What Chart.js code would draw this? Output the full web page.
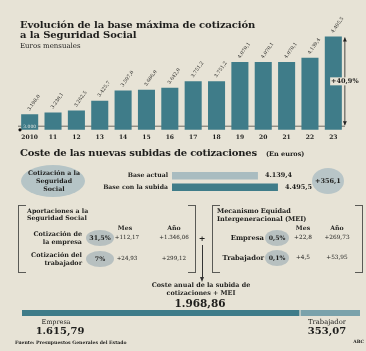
<!DOCTYPE html>
<html>
<head>
<meta charset="utf-8">
<script src="https://cdn.jsdelivr.net/npm/chart.js@4"></script>
<style>
  html, body { margin: 0; padding: 0; }
  body { width: 366px; height: 351px; background: #e7e3d6; position: relative; overflow: hidden; }
  canvas { position: absolute; left: 0; }
  .t { position: absolute; white-space: nowrap; line-height: 1; font-family: 'DejaVu Serif', serif; color: #1e1e1c; z-index: 2; }
  .ell { position: absolute; border-radius: 50%; z-index: 1; }
  .br { position: absolute; border: 1px solid #5a5a56; box-sizing: border-box; }
</style>
</head>
<body>
<canvas id="bars" width="366" height="140" style="top:5px"></canvas>
<canvas id="bases" width="366" height="23" style="top:170px"></canvas>
<canvas id="split" width="366" height="8" style="top:309px"></canvas>
<script>
// evolución base máxima (euros mensuales)
const years = ["2010", "11", "12", "13", "14", "15", "16", "17", "18", "19", "20", "21", "22", "23"];
const baseMax = [3198.0, 3230.1, 3262.5, 3425.7, 3597.0, 3606.0, 3642.0, 3751.2, 3751.2, 4070.1, 4070.1, 4070.1, 4139.4, 4495.5];
const refValue = 3000;
const riseLabel = "+40,9%";

// base actual vs base con la subida
const baseLabels = ["Base actual", "Base con la subida"];
const baseValues = [4139.4, 4495.5];
const baseDiff = "+356,1";

// coste anual empresa / trabajador
const splitLabels = ["Empresa", "Trabajador"];
const splitValues = [1615.79, 353.07];

// tablas
const aportRows = [
  { label: ["Cotización de", "la empresa"], rate: "31,5%", mes: "+112,17", ano: "+1.346,06" },
  { label: ["Cotización del", "trabajador"], rate: "7%", mes: "+24,93", ano: "+299,12" }
];
const meiRows = [
  { label: "Empresa", rate: "0,5%", mes: "+22,8", ano: "+269,73" },
  { label: "Trabajador", rate: "0,1%", mes: "+4,5", ano: "+53,95" }
];

const SERIF = "'DejaVu Serif', serif";
const INK = "#1e1e1c";
const TEAL = "#3f7c89";
const TEAL_LIGHT = "#a9bcc0";
const TEAL_MID = "#7aa2ab";
const BG = "#e7e3d6";

function fmtEs(v, d) {
  const [i, f] = v.toFixed(d).split(".");
  return i.replace(/\B(?=(\d{3})+(?!\d))/g, ".") + (f ? "," + f : "");
}

function put(text, x, y, o = {}) {
  const d = document.createElement("div");
  d.className = "t";
  d.textContent = text;
  d.style.left = x + "px";
  d.style.top = y + "px";
  d.style.fontSize = (o.size || 6) + "px";
  d.style.fontWeight = o.bold === false ? "normal" : "bold";
  if (o.ls) d.style.letterSpacing = o.ls + "px";
  const tx = o.align === "center" ? "-50%" : o.align === "right" ? "-100%" : "0";
  d.style.transform = "translate(" + tx + ", -50%)";
  document.body.appendChild(d);
}

function ell(cx, cy, rx, ry, color) {
  const d = document.createElement("div");
  d.className = "ell";
  d.style.left = (cx - rx) + "px";
  d.style.top = (cy - ry) + "px";
  d.style.width = 2 * rx + "px";
  d.style.height = 2 * ry + "px";
  d.style.background = color;
  document.body.appendChild(d);
}

function bracketBox(x1, y1, x2, y2) {
  const l = document.createElement("div");
  l.className = "br";
  l.style.cssText += `left:${x1}px;top:${y1}px;width:8px;height:${y2 - y1}px;border-right:none`;
  const r = document.createElement("div");
  r.className = "br";
  r.style.cssText += `left:${x2 - 8}px;top:${y1}px;width:8px;height:${y2 - y1}px;border-left:none`;
  document.body.appendChild(l);
  document.body.appendChild(r);
}

// --- chart 1: vertical bars
const barDecor = {
  id: "barDecor",
  beforeDatasetsDraw(chart) {
    const { ctx, chartArea: a, scales: { y } } = chart;
    const py = y.getPixelForValue(refValue);
    ctx.save();
    ctx.strokeStyle = "#4a4a46";
    ctx.lineWidth = 0.8;
    ctx.beginPath();
    ctx.moveTo(a.left, py);
    ctx.lineTo(a.right, py);
    ctx.stroke();
    ctx.restore();
  },
  afterDatasetsDraw(chart) {
    const { ctx, chartArea: a, scales: { y } } = chart;
    const bars = chart.getDatasetMeta(0).data;
    ctx.save();
    ctx.fillStyle = INK;
    ctx.font = "4.8px " + SERIF;
    ctx.textBaseline = "middle";
    bars.forEach((b, i) => {
      ctx.save();
      ctx.translate(b.x - 1, b.y - 4);
      ctx.rotate(-55 * Math.PI / 180);
      ctx.fillText(fmtEs(baseMax[i], 1), 0, 0);
      ctx.restore();
    });
    // 3.000 label + dot
    const py = y.getPixelForValue(refValue);
    ctx.fillStyle = "#dfe4df";
    ctx.font = "4.5px " + SERIF;
    ctx.textAlign = "center";
    ctx.fillText(fmtEs(refValue, 0), bars[0].x, py + 0.5);
    ctx.fillStyle = "#111";
    ctx.beginPath();
    ctx.arc(a.left + 2, a.bottom, 1.6, 0, Math.PI * 2);
    ctx.fill();
    // arrow +40,9%
    const last = bars[bars.length - 1];
    const ax = last.x + last.width / 2 + 3;
    const top = y.getPixelForValue(baseMax[baseMax.length - 1]);
    ctx.strokeStyle = "#222";
    ctx.lineWidth = 0.8;
    ctx.beginPath();
    ctx.moveTo(ax, top + 1);
    ctx.lineTo(ax, py - 1);
    ctx.stroke();
    ctx.fillStyle = "#222";
    [[top + 1, 1], [py - 1, -1]].forEach(([yy, s]) => {
      ctx.beginPath();
      ctx.moveTo(ax, yy);
      ctx.lineTo(ax - 2, yy + 4 * s);
      ctx.lineTo(ax + 2, yy + 4 * s);
      ctx.closePath();
      ctx.fill();
    });
    const my = (top + py) / 2;
    ctx.font = "bold 6.5px " + SERIF;
    const w = ctx.measureText(riseLabel).width;
    ctx.fillStyle = BG;
    ctx.fillRect(ax - w / 2 - 1, my - 4, w + 2, 8);
    ctx.fillStyle = INK;
    ctx.textAlign = "center";
    ctx.fillText(riseLabel, ax, my);
    ctx.restore();
  }
};

new Chart(document.getElementById("bars"), {
  type: "bar",
  data: {
    labels: years,
    datasets: [{
      data: baseMax,
      backgroundColor: TEAL,
      barPercentage: 0.73,
      categoryPercentage: 1
    }]
  },
  options: {
    responsive: false,
    animation: false,
    layout: { padding: { left: 18, right: 21, top: 0, bottom: 0 } },
    plugins: { legend: { display: false }, tooltip: { enabled: false } },
    scales: {
      x: {
        grid: { display: false, drawTicks: false },
        border: { display: false },
        ticks: { color: INK, padding: 4, font: { family: SERIF, size: 6, weight: "bold" } }
      },
      y: { display: false, min: 2940, max: 5020 }
    }
  },
  plugins: [barDecor]
});

// --- chart 2: base actual / con la subida
const baseDecor = {
  id: "baseDecor",
  afterDatasetsDraw(chart) {
    const { ctx, chartArea: a } = chart;
    ctx.save();
    ctx.fillStyle = INK;
    ctx.textBaseline = "middle";
    chart.getDatasetMeta(0).data.forEach((b, i) => {
      ctx.font = "bold 6.2px " + SERIF;
      ctx.textAlign = "right";
      ctx.fillText(chart.data.labels[i], a.left - 4, b.y);
      ctx.font = "bold 6.5px " + SERIF;
      ctx.textAlign = "left";
      ctx.fillText(fmtEs(baseValues[i], 1), b.x + 7, b.y);
    });
    ctx.restore();
  }
};

new Chart(document.getElementById("bases"), {
  type: "bar",
  data: {
    labels: baseLabels,
    datasets: [{
      data: baseValues,
      backgroundColor: [TEAL_LIGHT, TEAL],
      barPercentage: 0.64,
      categoryPercentage: 1
    }]
  },
  options: {
    indexAxis: "y",
    responsive: false,
    animation: false,
    layout: { padding: { left: 172, right: 86, top: 0, bottom: 0 } },
    plugins: { legend: { display: false }, tooltip: { enabled: false } },
    scales: {
      x: { display: false, min: 2610, max: 4532 },
      y: { display: false }
    }
  },
  plugins: [baseDecor]
});

// --- chart 3: empresa / trabajador
new Chart(document.getElementById("split"), {
  type: "bar",
  data: {
    labels: [""],
    datasets: [
      { label: splitLabels[0], data: [splitValues[0]], backgroundColor: TEAL, barPercentage: 0.75, categoryPercentage: 1 },
      {
        label: splitLabels[1], data: [splitValues[1]], backgroundColor: TEAL_MID,
        borderColor: BG, borderWidth: { left: 1.2, right: 0, top: 0, bottom: 0 }, borderSkipped: false,
        barPercentage: 0.75, categoryPercentage: 1
      }
    ]
  },
  options: {
    indexAxis: "y",
    responsive: false,
    animation: false,
    layout: { padding: { left: 22, right: 6, top: 0, bottom: 0 } },
    plugins: { legend: { display: false }, tooltip: { enabled: false } },
    scales: {
      x: { display: false, stacked: true, min: 0, max: splitValues[0] + splitValues[1] },
      y: { display: false, stacked: true }
    }
  }
});

// --- texts
put("Evolución de la base máxima de cotización", 20, 25, { size: 10, ls: -0.1 });
put("a la Seguridad Social", 20, 35, { size: 10, ls: -0.1 });
put("Euros mensuales", 20, 46, { size: 7, bold: false });

put("Coste de las nuevas subidas de cotizaciones", 20, 153, { size: 10, ls: -0.2 });
put("(En euros)", 266, 154, { size: 6.5 });

ell(53, 181, 32, 16, "#b5c4c6");
put("Cotización a la", 54, 173, { size: 6.3, align: "center" });
put("Seguridad", 54, 181, { size: 6.3, align: "center" });
put("Social", 54, 189, { size: 6.3, align: "center" });
ell(328, 181, 16, 13, "#b8c5c7");
put(baseDiff, 328, 181, { size: 6.5, align: "center" });

// aportaciones
bracketBox(18, 205, 196, 273);
put("Aportaciones a la", 27, 211, { size: 6.3 });
put("Seguridad Social", 27, 218, { size: 6.3 });
put("Mes", 125, 228, { size: 6.2, align: "center" });
put("Año", 174, 228, { size: 6.2, align: "center" });
aportRows.forEach((r, i) => {
  const cy = 238 + i * 21;
  put(r.label[0], 82, cy - 4, { size: 6.4, align: "right" });
  put(r.label[1], 82, cy + 4, { size: 6.4, align: "right" });
  ell(100, cy, 14, 8, "#b7c0c0");
  put(r.rate, 100, cy, { size: 6.3, align: "center" });
  put(r.mes, 127, cy, { size: 5.6, align: "center", bold: false });
  put(r.ano, 174, cy, { size: 5.6, align: "center", bold: false });
});

put("+", 202, 238, { size: 8, align: "center" });

// MEI
bracketBox(212, 205, 363, 273);
put("Mecanismo Equidad", 217, 211, { size: 6.5 });
put("Intergeneracional (MEI)", 217, 219, { size: 6.5 });
put("Mes", 303, 228, { size: 6.2, align: "center" });
put("Año", 337, 228, { size: 6.2, align: "center" });
meiRows.forEach((r, i) => {
  const cy = 238 + i * 20;
  put(r.label, 264, cy, { size: 6.8, align: "right" });
  ell(277, cy, 12, 8, "#b7c0c0");
  put(r.rate, 277, cy, { size: 6.2, align: "center" });
  put(r.mes, 303, cy, { size: 5.8, align: "center", bold: false });
  put(r.ano, 337, cy, { size: 5.8, align: "center", bold: false });
});

// arrow from + to total
const ar = document.createElement("div");
ar.style.cssText = "position:absolute;left:202px;top:245px;width:1px;height:33px;background:#333";
document.body.appendChild(ar);
const ah = document.createElement("div");
ah.style.cssText = "position:absolute;left:200px;top:277px;width:0;height:0;border-left:2.5px solid transparent;border-right:2.5px solid transparent;border-top:5px solid #333";
document.body.appendChild(ah);

put("Coste anual de la subida de", 201, 285, { size: 6.4, align: "center" });
put("cotizaciones + MEI", 201, 293, { size: 6.4, align: "center" });
put(fmtEs(splitValues[0] + splitValues[1], 2), 200, 303, { size: 10.5, align: "center" });

put(splitLabels[0], 56, 322, { size: 6.5, align: "center", bold: false });
put(fmtEs(splitValues[0], 2), 60, 331, { size: 10, align: "center" });
put(splitLabels[1], 327, 322, { size: 6.8, align: "center", bold: false });
put(fmtEs(splitValues[1], 2), 327, 331, { size: 10, align: "center" });

put("Fuente: Presupuestos Generales del Estado", 15, 343, { size: 4.6 });
put("ABC", 364, 342, { size: 4.4, align: "right" });
</script>
</body>
</html>
